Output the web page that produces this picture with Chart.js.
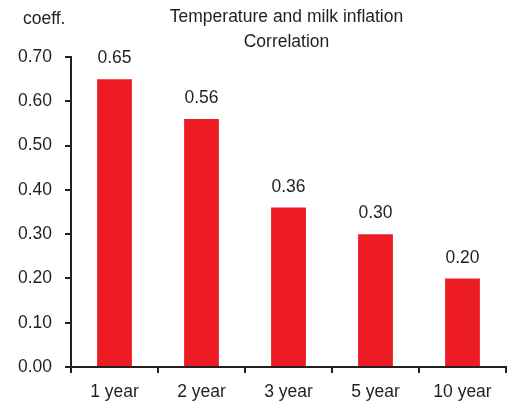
<!DOCTYPE html>
<html>
<head>
<meta charset="utf-8">
<script src="https://cdn.jsdelivr.net/npm/chart.js@4.4.0/dist/chart.umd.min.js"></script>
<style>
  html, body { margin: 0; padding: 0; background: #fff; }
  #wrap { width: 515px; height: 410px; }
</style>
</head>
<body>
<div id="wrap"><canvas id="c" width="515" height="410"></canvas></div>
<script>
// Correlation coefficient between temperature and milk inflation, by horizon
const categories = ['1 year', '2 year', '3 year', '5 year', '10 year'];
const correlation = [0.65, 0.56, 0.36, 0.30, 0.20];
const yTicks = [0, 0.1, 0.2, 0.3, 0.4, 0.5, 0.6, 0.7];
const titleLines = ['Temperature and milk inflation', 'Correlation'];
const unitLabel = 'coeff.';

const FONT = "'Liberation Sans', Arial, sans-serif";
const FS = 17.5;
const INK = '#231f20';
const BAR = '#ed1c24';

// Value labels above each bar, plus the heading texts
const annotate = {
  id: 'annotate',
  afterDatasetsDraw(chart) {
    const ctx = chart.ctx;
    const meta = chart.getDatasetMeta(0);
    ctx.save();
    ctx.fillStyle = INK;
    ctx.font = FS + 'px ' + FONT;
    ctx.textAlign = 'center';
    ctx.textBaseline = 'bottom';
    meta.data.forEach((bar, i) => {
      ctx.fillText(correlation[i].toFixed(2), bar.x, bar.y - 12);
    });
    // heading
    const area = chart.chartArea;
    const cx = (area.left + area.right) / 2 - 2;
    ctx.font = '17.5px ' + FONT;
    ctx.textBaseline = 'middle';
    ctx.fillText(titleLines[0], cx, 17);
    ctx.fillText(titleLines[1], cx, 42);
    ctx.textAlign = 'left';
    ctx.font = FS + 'px ' + FONT;
    ctx.fillText(unitLabel, 23, 19);
    ctx.restore();
  }
};

new Chart(document.getElementById('c'), {
  type: 'bar',
  data: {
    labels: categories,
    datasets: [{
      data: correlation,
      backgroundColor: BAR,
      borderWidth: 0,
      categoryPercentage: 1,
      barPercentage: 0.4
    }]
  },
  options: {
    responsive: false,
    animation: false,
    devicePixelRatio: 1,
    layout: { padding: { top: 57, right: 9, left: 0, bottom: 0 } },
    plugins: { legend: { display: false }, tooltip: { enabled: false }, title: { display: false } },
    scales: {
      x: {
        afterFit(s) { s.height = 43; },
        grid: { display: true, drawOnChartArea: false, drawTicks: true, tickLength: 6, color: INK, lineWidth: 2, offset: true },
        border: { display: true, color: INK, width: 2 },
        ticks: { color: INK, font: { family: FONT, size: FS }, padding: 9, maxRotation: 0 }
      },
      y: {
        min: 0,
        max: 0.7,
        afterFit(s) { s.width = 71; },
        afterBuildTicks(s) { s.ticks = yTicks.map(v => ({ value: v })); },
        grid: { display: true, drawOnChartArea: false, drawTicks: true, tickLength: 6, color: INK, lineWidth: 2 },
        border: { display: true, color: INK, width: 2 },
        ticks: {
          color: INK,
          font: { family: FONT, size: FS },
          padding: 13,
          callback: v => Number(v).toFixed(2)
        }
      }
    }
  },
  plugins: [annotate]
});
</script>
</body>
</html>
